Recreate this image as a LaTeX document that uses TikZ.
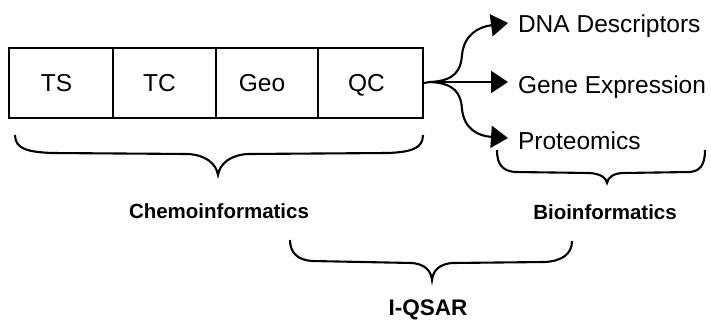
\documentclass[tikz,border=0pt]{standalone}
\usepackage{fontspec}
\setmainfont{Liberation Sans}
\usetikzlibrary{arrows.meta}
\begin{document}
\begin{tikzpicture}[x=1pt,y=-1pt,
  line width=2.1pt,
  cell/.style={draw,rectangle,inner sep=0pt,minimum height=70pt,text height=17pt,text depth=0pt,font=\fontsize{24.5}{28}\selectfont},
  item/.style={anchor=west,inner xsep=9pt,inner ysep=0pt,text height=17pt,text depth=0pt,font=\fontsize{24.5}{28}\selectfont},
  lab/.style={font=\bfseries\fontsize{20.5}{24}\selectfont,inner sep=0pt},
  arr/.style={-{Triangle[length=17pt,width=22pt]}},
  bracepath/.style={line width=2.1pt}]
\useasboundingbox (0,0) rectangle (711,321);
% cells
\node[cell,minimum width=104pt] (ts)  at (61,83)  {TS\kern9pt};
\node[cell,minimum width=103pt] (tc)  at (164.5,83) {TC\kern10pt};
\node[cell,minimum width=102pt] (geo) at (267,83) {Geo\kern10pt};
\node[cell,minimum width=105pt] (qc)  at (370.5,83) {QC\kern8pt};
% targets
\node[item] (dna)  at (508,24.5)  {DNA Descriptors};
\node[item] (gene) at (508,84.5)  {Gene Expression};
\node[item] (prot) at (508,141) {Proteomics};
\coordinate (fork) at (430,82);
% connectors
\draw (qc.east) -- (fork);
\draw[arr] (fork) .. controls (455,81) and (461,70) .. (462,55)
   .. controls (464,35) and (478,27) .. ([yshift=1.5pt]dna.west);
\draw[arr] (fork) -- ([yshift=2.5pt]gene.west);
\draw[arr] (fork) .. controls (455,83) and (461,94) .. (462,109)
   .. controls (464,129) and (478,136) .. ([yshift=3pt]prot.west);
% braces
\draw[bracepath] (15,135) .. controls (15,149) and (28,152) .. (52,153) -- (188,154)
   .. controls (205,155) and (216,163) .. (218,175)
   .. controls (220,163) and (231,155) .. (248,154) -- (388,153)
   .. controls (410,152) and (423,149) .. (423,135);
\draw[bracepath] (497,150) .. controls (497,165) and (503,171) .. (515,172) -- (590,173)
   .. controls (600,174) and (606,177) .. (607,183)
   .. controls (608,177) and (614,173) .. (624,173) -- (690,172)
   .. controls (700,171) and (705,165) .. (705,150);
\draw[bracepath] (290,240) .. controls (290,252) and (297,260) .. (312,261) -- (412,263)
   .. controls (424,264) and (431,270) .. (432,280)
   .. controls (433,270) and (440,264) .. (452,263) -- (545,262)
   .. controls (562,261) and (572,254) .. (572,241);
% labels
\node[lab] (chemo) at (219,211) {Chemoinformatics};
\node[lab] (bio)   at (605,212) {Bioinformatics};
\node[lab,font=\bfseries\fontsize{22.5}{26}\selectfont] (iqsar) at (428,310) {I-QSAR};
\end{tikzpicture}
\end{document}
